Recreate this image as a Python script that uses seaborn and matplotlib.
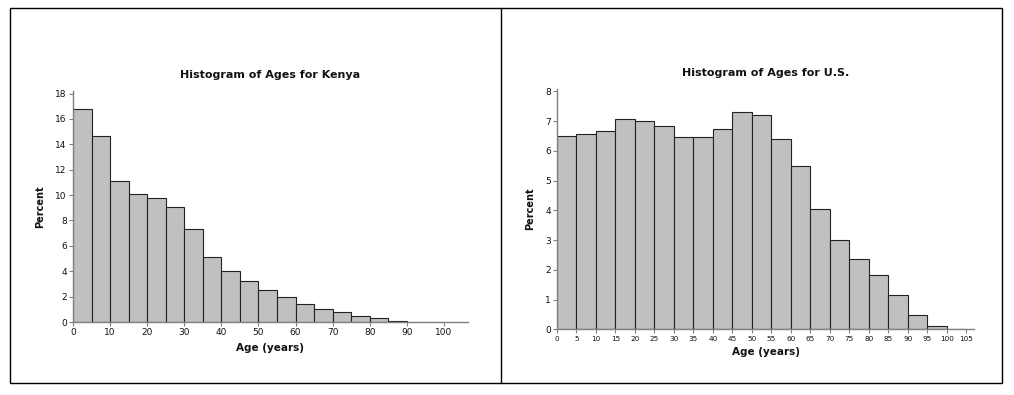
import matplotlib
matplotlib.use("Agg")
import matplotlib.pyplot as plt
import seaborn as sns
import numpy as np
from matplotlib.patches import Rectangle
from matplotlib.lines import Line2D

# data (percent of population per 5 year band)
kenya_edges = list(range(0, 105, 5))
kenya_pct = [16.8, 14.65, 11.1, 10.1, 9.8, 9.05, 7.35, 5.1, 4.0, 3.25,
             2.5, 2.0, 1.4, 1.05, 0.75, 0.45, 0.28, 0.08, 0.02, 0.01]
kenya_xticks = list(range(0, 110, 10))
kenya_yticks = list(range(0, 20, 2))

us_edges = list(range(0, 110, 5))
us_pct = [6.5, 6.57, 6.68, 7.07, 7.0, 6.82, 6.47, 6.47, 6.73, 7.3,
          7.21, 6.4, 5.49, 4.03, 3.0, 2.36, 1.84, 1.14, 0.47, 0.1, 0.02]
us_xticks = list(range(0, 110, 5))
us_yticks = list(range(0, 9))

sns.set_style("ticks")
plt.rcParams['font.family'] = ['DejaVu Sans']
plt.rcParams['text.color'] = "#111111"
plt.rcParams['axes.labelcolor'] = "#111111"

fig = plt.figure(figsize=(10.14, 3.95), dpi=100)

# outer frame and divider
fig.patches.append(Rectangle((10 / 1014, 1 - 383 / 395), 992 / 1014, 375 / 395,
                             transform=fig.transFigure, fill=False,
                             edgecolor="black", linewidth=1.0))
fig.lines.append(Line2D([501 / 1014, 501 / 1014], [1 - 383 / 395, 1 - 8 / 395],
                        transform=fig.transFigure, color="black", linewidth=1.0))


def draw_hist(ax, edges, pct, xticks, yticks, xmax, ymax, title, xtick_size):
    centers = [(a + b) / 2 for a, b in zip(edges[:-1], edges[1:])]
    sns.histplot(x=centers, weights=pct, bins=edges, color="#c0c0c0",
                 edgecolor="#222222", linewidth=0.8, alpha=1.0, ax=ax)
    ax.set_xlim(0, xmax)
    ax.set_ylim(0, ymax)
    ax.set_xticks(xticks)
    ax.set_yticks(yticks)
    ax.tick_params(axis="x", labelsize=xtick_size, length=3, width=0.8,
                   color="#808080", pad=1.5, labelcolor="#111111")
    ax.tick_params(axis="y", labelsize=6.5, length=3, width=0.8,
                   color="#808080", pad=1.5, labelcolor="#111111")
    for side in ["top", "right"]:
        ax.spines[side].set_visible(False)
    for side in ["left", "bottom"]:
        ax.spines[side].set_color("#808080")
        ax.spines[side].set_linewidth(1.0)
    ax.set_title(title, fontsize=8, fontweight="bold", pad=9)
    ax.set_xlabel("Age (years)", fontsize=7.5, fontweight="bold", labelpad=4)
    ax.set_ylabel("Percent", fontsize=7, fontweight="bold", labelpad=7)


ax1 = fig.add_axes([73 / 1014, 1 - 322 / 395, (468 - 73) / 1014, (322 - 91) / 395])
draw_hist(ax1, kenya_edges, kenya_pct, kenya_xticks, kenya_yticks, 106.5, 18.2,
          "Histogram of Ages for Kenya", 6.5)

ax2 = fig.add_axes([557 / 1014, 1 - 329.3 / 395, (974 - 557) / 1014, (329.3 - 89) / 395])
draw_hist(ax2, us_edges, us_pct, us_xticks, us_yticks, 107, 8.08,
          "Histogram of Ages for U.S.", 5.2)

fig.savefig("out.png", dpi=100)
